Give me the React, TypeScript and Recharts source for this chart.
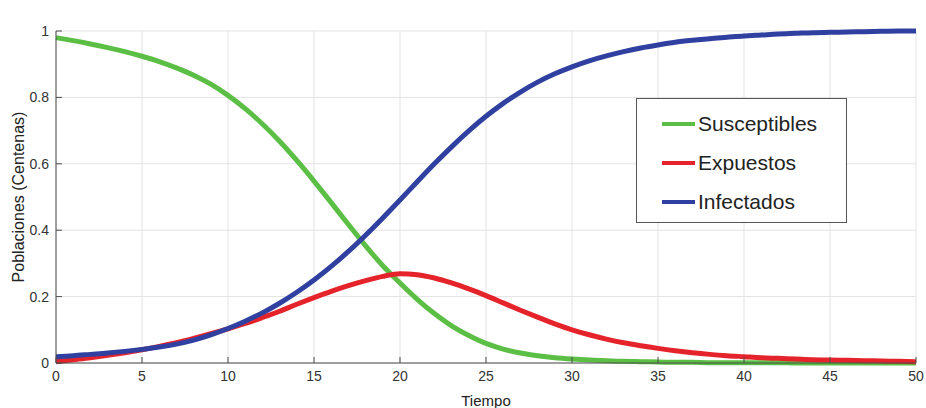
import React from 'react';
import { LineChart, Line, XAxis, YAxis, CartesianGrid, Legend } from 'recharts';

const tiempo = [0,1,2,3,4,5,6,7,8,9,10,11,12,13,14,15,16,17,18,19,20,21,22,23,24,25,26,27,28,29,30,31,32,33,34,35,36,37,38,39,40,41,42,43,44,45,46,47,48,49,50];

const susceptibles = [0.980,0.971,0.961,0.950,0.938,0.924,0.908,0.889,0.867,0.840,0.806,0.766,0.720,0.668,0.610,0.548,0.483,0.417,0.353,0.293,0.241,0.192,0.149,0.112,0.083,0.059,0.042,0.030,0.022,0.016,0.012,0.009,0.007,0.005,0.004,0.003,0.002,0.002,0.001,0.001,0.001,0.001,0.001,0.000,0.000,0.000,0.000,0.000,0.000,0.000,0.000];

const expuestos = [0.004,0.010,0.016,0.023,0.031,0.040,0.050,0.061,0.074,0.088,0.103,0.119,0.137,0.156,0.177,0.197,0.216,0.233,0.248,0.261,0.269,0.266,0.256,0.241,0.223,0.203,0.181,0.159,0.138,0.118,0.100,0.085,0.072,0.061,0.052,0.044,0.037,0.031,0.026,0.022,0.019,0.016,0.014,0.012,0.010,0.009,0.008,0.007,0.006,0.005,0.004];

const infectados = [0.019,0.022,0.026,0.030,0.035,0.041,0.048,0.057,0.069,0.085,0.104,0.126,0.151,0.180,0.213,0.250,0.291,0.336,0.385,0.437,0.491,0.546,0.600,0.651,0.699,0.743,0.782,0.816,0.846,0.871,0.892,0.910,0.925,0.938,0.949,0.958,0.966,0.972,0.977,0.981,0.985,0.988,0.991,0.993,0.995,0.996,0.997,0.998,0.999,1.0,1.0];

const xTicks = [0,5,10,15,20,25,30,35,40,45,50];
const yTicks = [0,0.2,0.4,0.6,0.8,1];

const seriesNames = ['Susceptibles', 'Expuestos', 'Infectados'];
const seriesColors = ['#5cbf45', '#e5232b', '#3040a0'];

const data = tiempo.map((t, i) => ({
  t,
  s: susceptibles[i],
  e: expuestos[i],
  inf: infectados[i],
}));

const FONT = '"Liberation Sans", Arial, Helvetica, sans-serif';
const AXIS = '#4d4d4d';
const TEXT = '#333333';

const LegendBox = (props: any) => {
  const payload = [...(props.payload || [])].sort(
    (a: any, b: any) => seriesNames.indexOf(a.value) - seriesNames.indexOf(b.value)
  );
  return (
    <div
      style={{
        width: 211,
        height: 125,
        boxSizing: 'border-box',
        border: '1px solid #555',
        background: '#fff',
        fontFamily: FONT,
        fontSize: 21,
        color: '#222',
        paddingTop: 5,
      }}
    >
      {payload.map((p: any) => (
        <div key={p.value} style={{ display: 'flex', alignItems: 'center', height: 39, paddingLeft: 25 }}>
          <div style={{ width: 33, height: 4, background: p.color, marginRight: 3 }} />
          <span>{p.value}</span>
        </div>
      ))}
    </div>
  );
};

const NoLabel = () => <g />;

export default function App() {
  return (
    <div style={{ position: 'absolute', left: 0, top: 0, width: 926, height: 408, background: '#fff' }}>
      <LineChart
        width={926}
        height={408}
        data={data}
        margin={{ top: 31, right: 10, bottom: 15, left: 16 }}
        style={{ fontFamily: FONT }}
      >
        <CartesianGrid stroke="#e3e3e3" strokeWidth={1} />
        <XAxis
          dataKey="t"
          type="number"
          domain={[0, 50]}
          ticks={xTicks}
          height={30}
          stroke={AXIS}
          tickSize={-6}
          tickMargin={14}
          tick={{ fill: TEXT, fontSize: 14, fontFamily: FONT }}
          label={{ value: 'Tiempo', position: 'bottom', offset: 2, fill: '#222', fontSize: 15, fontFamily: FONT }}
        />
        <XAxis
          xAxisId="top"
          orientation="top"
          type="number"
          domain={[0, 50]}
          ticks={xTicks}
          height={0}
          stroke={AXIS}
          tickSize={-6}
          tick={NoLabel}
          label={{ value: 'Modelo Matematico SEI', position: 'top', offset: 7, fill: '#111', fontSize: 15, fontWeight: 'bold', fontFamily: FONT }}
        />
        <YAxis
          type="number"
          domain={[0, 1]}
          ticks={yTicks}
          width={40}
          stroke={AXIS}
          tickSize={-6}
          tickMargin={13}
          tick={{ fill: TEXT, fontSize: 14, fontFamily: FONT }}
          label={{ value: 'Poblaciones (Centenas)', angle: -90, position: 'insideLeft', offset: 2, fill: '#222', fontSize: 16, fontFamily: FONT, style: { textAnchor: 'middle' } }}
        />
        <YAxis
          yAxisId="right"
          orientation="right"
          type="number"
          domain={[0, 1]}
          ticks={yTicks}
          width={0}
          stroke={AXIS}
          tickSize={-6}
          tick={NoLabel}
        />
        <Legend
          layout="vertical"
          align="center"
          verticalAlign="middle"
          content={<LegendBox />}
          wrapperStyle={{ left: 636, top: 98, width: 211, height: 125 }}
        />
        <Line type="monotone" dataKey="s" name={seriesNames[0]} stroke={seriesColors[0]} strokeWidth={5} dot={false} isAnimationActive={false} />
        <Line type="monotone" dataKey="e" name={seriesNames[1]} stroke={seriesColors[1]} strokeWidth={5} dot={false} isAnimationActive={false} />
        <Line type="monotone" dataKey="inf" name={seriesNames[2]} stroke={seriesColors[2]} strokeWidth={5} dot={false} isAnimationActive={false} />
      </LineChart>
    </div>
  );
}
